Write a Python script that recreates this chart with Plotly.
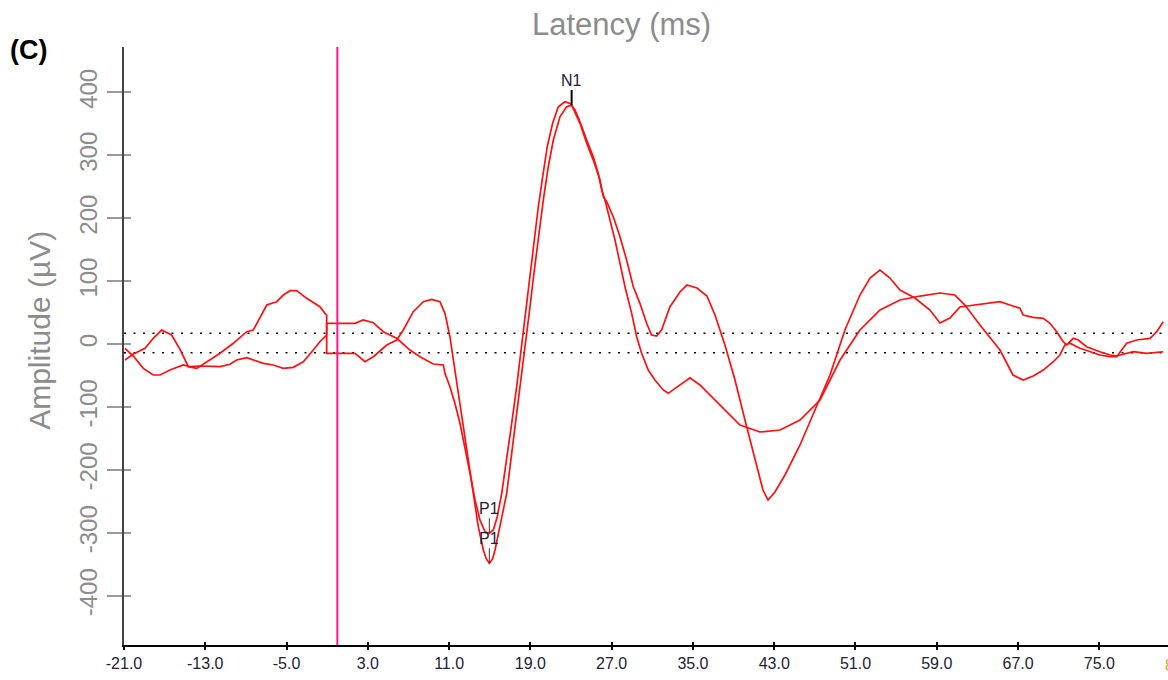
import numpy as np
import plotly.graph_objects as go

# Latency axis ticks (ms) and amplitude axis ticks (µV)
x_ticks = [-21, -13, -5, 3, 11, 19, 27, 35, 43, 51, 59, 67, 75]
next_tick = 83
y_ticks = [400, 300, 200, 100, 0, -100, -200, -300, -400]

# Baselines of the two averaged sweeps (µV)
baselines = [17.2, -13.7]
stim_onset = 0.0

# Sweep 1: latency (ms) / amplitude (µV)
t1_ms = [-20.90, -20.08, -18.93, -18.12, -17.29, -16.31, -15.49, -14.67, -13.84, -12.86,
         -11.55, -10.24, -8.92, -8.27, -7.61, -6.95, -5.97, -5.32, -4.66, -4.00,
         -3.02, -2.53, -1.72, -1.22, -1.05, -1.05, 1.74, 2.72, 3.54, 4.86,
         5.84, 6.49, 7.47, 8.46, 9.29, 10.10, 10.59, 11.08, 11.41, 11.90,
         12.40, 12.89, 13.38, 13.87, 14.37, 14.65, 14.96, 15.28, 15.52, 16.00,
         16.67, 17.16, 17.65, 18.15, 18.57, 18.96, 19.35, 19.78, 20.27, 20.76,
         21.26, 21.91, 22.57, 23.06, 23.88, 24.54, 25.19, 25.85, 26.18, 26.51,
         27.16, 27.82, 28.47, 29.13, 29.78, 30.44, 30.93, 31.42, 31.91, 32.74,
         33.72, 34.41, 35.40, 36.38, 37.17, 38.15, 39.14, 40.12, 41.11, 41.89,
         42.39, 43.07, 44.06, 45.54, 47.01, 48.49, 49.96, 51.44, 52.43, 53.41,
         54.39, 55.38, 56.85, 58.33, 59.31, 60.30, 61.28, 62.76, 64.24, 65.22,
         66.20, 67.19, 67.51, 68.50, 69.48, 70.14, 70.80, 71.45, 71.78, 72.44,
         72.93, 73.75, 75.06, 76.05, 76.71, 78.34, 79.66, 81.29]
t1_uv = [-25.3, -15.7, -6.7, 9.2, 22.4, 14.5, -8.3, -35.9, -38.5, -28.0,
         -14.6, 1.3, 19.7, 22.4, 43.5, 62.1, 67.4, 78.0, 84.9, 84.9,
         72.8, 67.4, 59.4, 48.9, 46.2, -14.6, -14.6, -28.0, -20.0, -1.4,
         6.5, 22.4, 51.5, 67.4, 71.2, 67.4, 48.9, 11.8, -25.3, -78.2,
         -131.3, -184.2, -237.1, -290.2, -327.2, -341.0, -348.3, -341.5, -327.2, -290.2,
         -237.1, -173.5, -110.0, -51.8, 1.3, 59.4, 112.5, 170.7, 229.0, 281.9,
         324.3, 361.3, 377.2, 379.9, 350.9, 319.1, 292.5, 260.8, 234.2, 226.3,
         202.4, 170.7, 133.6, 91.2, 64.8, 33.1, 14.5, 12.9, 22.4, 59.4,
         82.8, 93.9, 89.1, 76.4, 46.2, -1.4, -57.0, -120.6, -184.2, -231.9,
         -247.8, -235.1, -208.0, -160.3, -104.7, -49.1, 22.4, 78.0, 105.0, 117.7,
         105.0, 86.0, 73.3, 54.2, 33.5, 41.5, 59.0, 62.1, 65.3, 67.4,
         62.1, 56.9, 46.2, 42.6, 41.0, 33.1, 19.7, 3.8, -1.4, 9.2,
         6.5, -4.1, -12.1, -17.3, -18.9, -12.1, -14.6, -12.1]

# Sweep 2: latency (ms) / amplitude (µV)
t2_ms = [-20.90, -20.08, -19.10, -18.12, -17.46, -16.48, -15.17, -14.51, -13.53, -11.55,
         -10.57, -9.91, -8.92, -8.27, -7.29, -6.30, -5.32, -4.34, -3.35, -2.37,
         -1.72, -1.05, -1.05, 1.74, 2.55, 3.54, 4.52, 5.84, 7.15, 8.13,
         9.44, 10.43, 10.59, 11.08, 11.57, 12.07, 12.56, 13.06, 13.55, 14.04,
         14.53, 14.96, 15.35, 15.74, 16.18, 16.67, 17.16, 17.65, 18.04, 18.46,
         18.79, 19.12, 19.45, 19.78, 20.21, 20.66, 21.19, 21.75, 22.40, 22.90,
         23.39, 23.88, 24.54, 25.19, 25.68, 26.02, 26.34, 26.83, 27.33, 27.82,
         28.31, 28.97, 29.46, 29.95, 30.60, 31.26, 32.08, 32.57, 33.72, 34.71,
         35.69, 37.17, 38.65, 39.63, 41.60, 43.57, 45.54, 47.51, 49.48, 51.44,
         53.41, 55.38, 57.35, 59.31, 60.79, 61.77, 63.25, 65.22, 66.50, 67.51,
         68.50, 69.48, 70.47, 71.12, 71.61, 72.11, 73.09, 74.08, 75.06, 76.05,
         76.71, 77.69, 78.68, 79.99, 80.65, 81.29]
t2_uv = [-6.7, -18.9, -38.5, -49.1, -49.1, -41.2, -33.2, -35.9, -34.8, -35.9,
         -32.1, -25.3, -21.6, -25.3, -30.5, -33.2, -38.5, -36.9, -28.0, -9.4,
         3.8, 14.5, 33.1, 33.1, 38.3, 34.0, 19.7, 9.2, -9.4, -20.0,
         -31.6, -33.2, -46.4, -67.7, -94.1, -125.8, -163.0, -205.3, -247.7, -279.5,
         -298.1, -300.6, -295.4, -274.3, -237.1, -184.2, -125.8, -67.7, -14.6, 38.3,
         80.7, 133.6, 176.1, 218.3, 266.0, 313.7, 350.9, 377.2, 385.2, 382.6,
         372.0, 353.4, 324.3, 297.8, 271.4, 244.9, 229.0, 197.2, 165.4, 128.4,
         91.2, 48.9, 11.8, -14.6, -41.2, -57.0, -72.9, -78.2, -64.9, -53.7,
         -64.9, -88.8, -112.7, -128.6, -139.7, -136.5, -120.6, -88.8, -25.3, 22.4,
         54.2, 70.1, 76.4, 81.2, 78.0, 62.1, 30.4, -9.4, -49.1, -57.0,
         -50.7, -41.2, -28.0, -17.3, -1.4, 1.3, -6.7, -12.1, -17.3, -20.0,
         -20.0, 1.3, 6.5, 9.2, 19.7, 35.6]

X_RANGE = [-21, 81.76]
Y_RANGE = [-478.2, 472.2]
RED = "#ff1010"
SANS = "Liberation Sans, Arial, sans-serif"
TICK_FONT = dict(family=SANS, size=16, color="#222233")
GRAY = "#8c8c8c"

fig = go.Figure()
for xs, ys in [(t1_ms, t1_uv), (t2_ms, t2_uv)]:
    fig.add_trace(go.Scatter(x=xs, y=ys, mode="lines",
                             line=dict(color=RED, width=1.7),
                             hoverinfo="skip", showlegend=False))

# invisible trace so the overlaid tick axes are drawn
fig.add_trace(go.Scatter(x=[X_RANGE[0]], y=[0], xaxis="x2", yaxis="y2",
                         mode="markers", marker=dict(opacity=0),
                         hoverinfo="skip", showlegend=False))

# dotted baselines
for b in baselines:
    fig.add_shape(type="line", xref="x", yref="y", x0=X_RANGE[0], x1=X_RANGE[1],
                  y0=b, y1=b, line=dict(color="black", width=1.6, dash="2px,7.5px"),
                  layer="below")

# stimulus onset marker
fig.add_shape(type="line", xref="x", yref="paper", x0=stim_onset, x1=stim_onset,
              y0=0, y1=1, line=dict(color="#ff1493", width=2))

# peak labels
a1 = np.array(t1_uv)
a2 = np.array(t2_uv)
i_n1 = int(np.argmax(a1))
peak_labels = [("N1", t1_ms[i_n1], t1_uv[i_n1], 2, "black")]
for ms, uv in [(t1_ms, a1), (t2_ms, a2)]:
    i = int(np.argmin(uv))
    peak_labels.append(("P1", ms[i], float(uv[i]), 1, "#333333"))
for txt, px, py, w, c in peak_labels:
    fig.add_annotation(x=px, y=py, xref="x", yref="y", text=txt,
                       showarrow=True, arrowhead=0, arrowwidth=w, arrowcolor=c,
                       ax=0, ay=-25, standoff=0,
                       font=dict(family=SANS, size=16, color="#202040"))

# next tick label, cut by the right edge
fig.add_annotation(x=(next_tick - X_RANGE[0]) / (X_RANGE[1] - X_RANGE[0]), y=-0.034,
                   xref="paper", yref="paper", text=f"{next_tick:.1f}", showarrow=False,
                   xanchor="center", yanchor="middle",
                   font=dict(family=SANS, size=16, color="#d9a441"))

fig.add_annotation(x=0.477, y=1.0368, xref="paper", yref="paper", text="Latency (ms)",
                   xanchor="center", yanchor="middle", showarrow=False,
                   font=dict(family=SANS, size=31, color=GRAY))
fig.add_annotation(x=-0.0805, y=0.527, xref="paper", yref="paper", text="Amplitude (µV)",
                   xanchor="center", yanchor="middle", textangle=-90, showarrow=False,
                   font=dict(family=SANS, size=30, color=GRAY))
fig.add_annotation(x=-0.1115, y=0.995, xref="paper", yref="paper", text="<b>(C)</b>",
                   xanchor="left", yanchor="middle", showarrow=False,
                   font=dict(family=SANS, size=27, color="black"))

fig.update_layout(
    width=1168, height=680,
    margin=dict(l=124, r=0, t=47, b=35),
    plot_bgcolor="white", paper_bgcolor="white",
    xaxis=dict(range=X_RANGE, tickvals=x_ticks, ticktext=[f"{v:.1f}" for v in x_ticks],
               showline=True, linecolor="black", linewidth=2, ticks="outside",
               ticklen=3, tickwidth=2, tickcolor="black", tickfont=TICK_FONT,
               showgrid=False, zeroline=False),
    yaxis=dict(range=Y_RANGE, tickvals=y_ticks, ticktext=[str(v) for v in y_ticks],
               tickangle=-90, showline=True, linecolor="#444444", linewidth=2,
               ticks="outside", ticklen=15, tickwidth=1.5, tickcolor="#9a9a9a",
               tickfont=dict(family=SANS, size=24, color=GRAY),
               showgrid=False, zeroline=False),
    xaxis2=dict(overlaying="x", matches="x", anchor="y", side="bottom",
                tickvals=x_ticks, ticks="inside", ticklen=3, tickwidth=2,
                tickcolor="black", showticklabels=False, showgrid=False,
                zeroline=False, showline=False),
    yaxis2=dict(overlaying="y", matches="y", anchor="x", side="left",
                tickvals=y_ticks, ticks="inside", ticklen=7, tickwidth=1.5,
                tickcolor="#9a9a9a", showticklabels=False, showgrid=False,
                zeroline=False, showline=False),
)

fig.write_html("out.html")
